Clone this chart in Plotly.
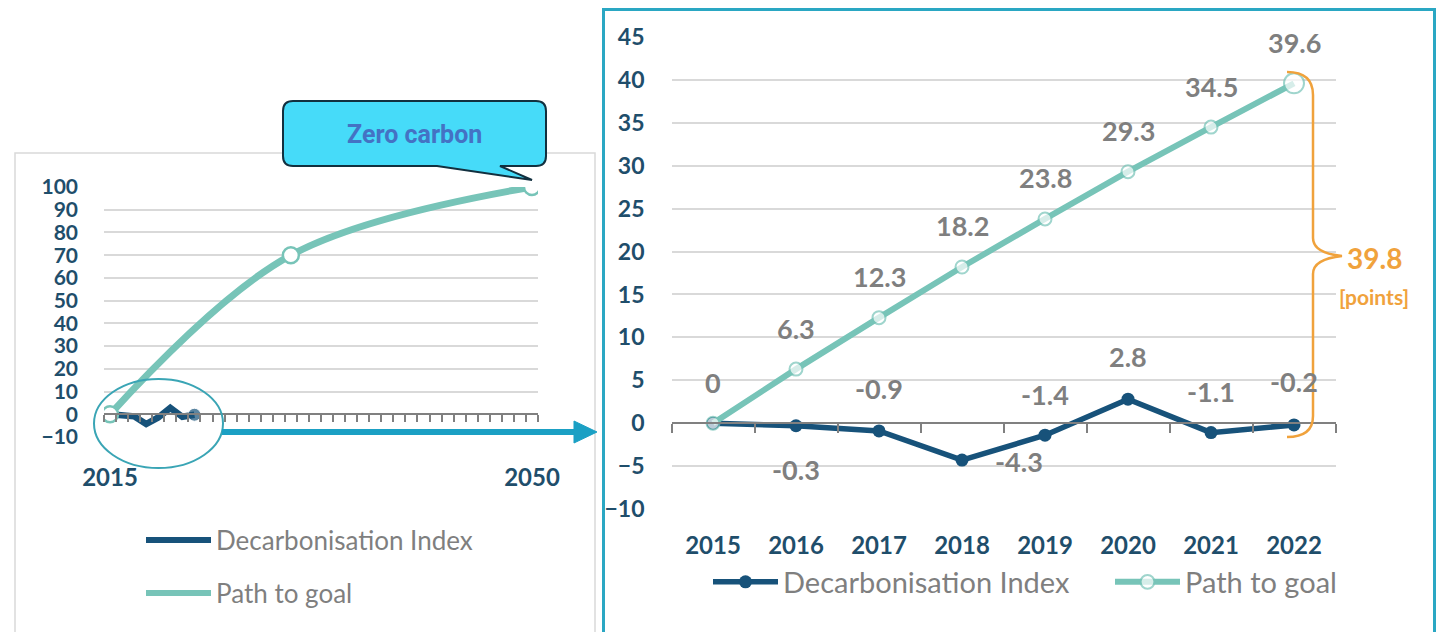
import plotly.graph_objects as go

# ---------------- data ----------------
years = [2015, 2016, 2017, 2018, 2019, 2020, 2021, 2022]
decarbonisation_index = [0, -0.3, -0.9, -4.3, -1.4, 2.8, -1.1, -0.2]
path_to_goal = [0, 6.3, 12.3, 18.2, 23.8, 29.3, 34.5, 39.6]
goal_years = [2015, 2030, 2050]
goal_values = [0, 70, 100]
left_y_ticks = [-10, 0, 10, 20, 30, 40, 50, 60, 70, 80, 90, 100]
left_x_labels = [2015, 2050]
right_y_ticks = [-10, -5, 0, 5, 10, 15, 20, 25, 30, 35, 40, 45]
series_names = ["Decarbonisation Index", "Path to goal"]
callout_text = "Zero carbon"
gap_unit = "[points]"

# ---------------- style ----------------
W, H = 1440, 632
NAVY = "#17527A"
TEAL = "#77C4B8"
GRAY_TXT = "#7F7F7F"
AXIS_TXT = "#1F4E6B"
GRID = "#D9D9D9"
ORANGE = "#F0A23C"
FONT = "Lato"


def px(x):
    return x / W


def py(y):
    return 1 - y / H


def zero_pos(dom, rng):
    return dom[0] + (0 - rng[0]) / (rng[1] - rng[0]) * (dom[1] - dom[0])


# left panel geometry
L_xdom = [px(104), px(538)]
L_ydom = [py(437), py(187)]
L_xrng = [2014.5, 2050.5]
L_yrng = [-10, 100]
# right panel geometry
R_xdom = [px(671.5), px(1335.5)]
R_ydom = [py(509), py(37)]
R_xrng = [2014.5, 2022.5]
R_yrng = [-10, 45]

fig = go.Figure()

# ---- left overview chart ----
fig.add_trace(go.Scatter(
    x=years, y=decarbonisation_index, mode="lines+markers",
    line=dict(color=NAVY, width=6.5),
    marker=dict(size=[0] * (len(years) - 1) + [13], color=NAVY),
    xaxis="x", yaxis="y", showlegend=False, hoverinfo="skip"))
fig.add_trace(go.Scatter(
    x=goal_years, y=goal_values, mode="lines+markers",
    line=dict(color=TEAL, width=7, shape="spline", smoothing=1.0),
    marker=dict(size=16, color="white", line=dict(color=TEAL, width=2.5)),
    xaxis="x", yaxis="y", showlegend=False, hoverinfo="skip"))

# left legend (line only)
fig.add_trace(go.Scatter(x=[None], y=[None], mode="lines", name=series_names[0],
                         line=dict(color=NAVY, width=6), xaxis="x", yaxis="y",
                         legend="legend3"))
fig.add_trace(go.Scatter(x=[None], y=[None], mode="lines", name=series_names[1],
                         line=dict(color=TEAL, width=6), xaxis="x", yaxis="y",
                         legend="legend4"))

# ---- right detail chart ----
fig.add_trace(go.Scatter(
    x=years, y=decarbonisation_index, mode="lines+markers", name=series_names[0],
    line=dict(color=NAVY, width=5.5),
    marker=dict(size=13, color=NAVY),
    xaxis="x2", yaxis="y2", legend="legend", hoverinfo="skip"))
fig.add_trace(go.Scatter(
    x=years, y=path_to_goal, mode="lines+markers", name=series_names[1],
    line=dict(color=TEAL, width=6),
    marker=dict(size=[13] * (len(years) - 1) + [20], color="white",
                line=dict(color=TEAL, width=2)),
    xaxis="x2", yaxis="y2", legend="legend2", hoverinfo="skip"))

annotations = []
lab_font = dict(family=FONT, size=27, color=GRAY_TXT, weight="bold")
for yr, v in zip(years, path_to_goal):
    annotations.append(dict(x=yr, y=v, xref="x2", yref="y2", text=f"{v:g}",
                            showarrow=False, yshift=41, font=lab_font))
dec_shift = [None, (0, -44), (0, 42), (57, -1), (0, 41), (0, 43), (0, 41), (0, 43)]
for yr, v, s in zip(years, decarbonisation_index, dec_shift):
    if s is None:
        continue
    annotations.append(dict(x=yr, y=v, xref="x2", yref="y2", text=f"{v:g}",
                            showarrow=False, xshift=s[0], yshift=s[1], font=lab_font))

# callout text
annotations.append(dict(x=px(415), y=py(134), xref="paper", yref="paper",
                        xanchor="center", yanchor="middle",
                        text=callout_text, showarrow=False,
                        font=dict(family="Roboto", size=25, color="#4472C4", weight="bold")))
# gap label
gap = path_to_goal[-1] - decarbonisation_index[-1]
annotations.append(dict(x=px(1374), y=py(258), xref="paper", yref="paper",
                        xanchor="center", yanchor="middle",
                        text=f"{gap:.1f}", showarrow=False,
                        font=dict(family=FONT, size=28, color=ORANGE, weight="bold")))
annotations.append(dict(x=px(1374), y=py(296), xref="paper", yref="paper",
                        xanchor="center", yanchor="middle",
                        text=gap_unit, showarrow=False,
                        font=dict(family=FONT, size=21, color=ORANGE, weight="bold")))


def path_px(cmds):
    out = []
    for c in cmds:
        if isinstance(c, str):
            out.append(c)
        else:
            out.append(f"{px(c[0]):.5f},{py(c[1]):.5f}")
    return " ".join(out)


shapes = []
# boxes
shapes.append(dict(type="rect", xref="paper", yref="paper", x0=px(15), x1=px(595),
                   y0=py(636), y1=py(153), line=dict(color=GRID, width=1.5), layer="below"))
shapes.append(dict(type="rect", xref="paper", yref="paper", x0=px(603.5), x1=px(1434.5),
                   y0=py(636), y1=py(9.5), line=dict(color="#2AA7C3", width=3), layer="below"))
# callout bubble
bubble = path_px(["M", (293, 101), "L", (536, 101), "Q", (546, 101), (546, 111),
                  "L", (546, 156), "Q", (546, 166), (536, 166), "L", (500, 166),
                  "L", (532, 180), "L", (437, 166), "L", (293, 166),
                  "Q", (283, 166), (283, 156), "L", (283, 111), "Q", (283, 101), (293, 101), "Z"])
shapes.append(dict(type="path", xref="paper", yref="paper", path=bubble,
                   fillcolor="#46DBF9", line=dict(color="#12303F", width=2)))
# ellipse highlight
shapes.append(dict(type="circle", xref="paper", yref="paper", x0=px(94), x1=px(223),
                   y0=py(468), y1=py(379), line=dict(color="#3AA5B5", width=2)))
# arrow
shapes.append(dict(type="line", xref="paper", yref="paper", x0=px(222), x1=px(578),
                   y0=py(432), y1=py(432), line=dict(color="#1BA0C4", width=6)))
head = path_px(["M", (574, 421), "L", (597, 432), "L", (574, 443), "Z"])
shapes.append(dict(type="path", xref="paper", yref="paper", path=head,
                   fillcolor="#1BA0C4", line=dict(color="#1BA0C4", width=1)))
# brace
brace = path_px(["M", (1287, 72), "Q", (1313, 72), (1313, 95), "L", (1313, 238),
                 "Q", (1313, 253), (1342, 256), "Q", (1313, 259), (1313, 274),
                 "L", (1313, 416), "Q", (1313, 437), (1287, 437)])
shapes.append(dict(type="path", xref="paper", yref="paper", path=brace,
                   line=dict(color=ORANGE, width=2.5)))

axis_font_l = dict(family=FONT, size=21, color=AXIS_TXT, weight="bold")
axis_font_r = dict(family=FONT, size=23, color=AXIS_TXT, weight="bold")
xfont = dict(family=FONT, size=24, color=AXIS_TXT, weight="bold")

fig.update_layout(
    template="none",
    width=W, height=H, autosize=False,
    margin=dict(l=0, r=0, t=0, b=0, pad=0, autoexpand=False),
    paper_bgcolor="white", plot_bgcolor="rgba(0,0,0,0)",
    font=dict(family=FONT),
    xaxis=dict(domain=L_xdom, range=L_xrng, anchor="free", automargin=False,
               position=zero_pos(L_ydom, L_yrng),
               tickmode="array", tickvals=left_x_labels, ticks="",
               ticklabelstandoff=42, tickfont=xfont,
               minor=dict(tickmode="linear", tick0=2014.5, dtick=1, ticks="outside",
                          ticklen=7, tickwidth=1.5, tickcolor="#808080", showgrid=False),
               showline=True, linecolor="#808080", linewidth=2,
               showgrid=False, zeroline=False, fixedrange=True),
    yaxis=dict(domain=L_ydom, range=L_yrng, anchor="x", automargin=False,
               tickmode="array", tickvals=left_y_ticks, ticks="",
               ticklabelstandoff=25, tickfont=axis_font_l,
               showgrid=True, gridcolor=GRID, gridwidth=1.5,
               zeroline=False, showline=False, fixedrange=True),
    xaxis2=dict(domain=R_xdom, range=R_xrng, anchor="free", automargin=False,
                position=zero_pos(R_ydom, R_yrng),
                tickmode="array", tickvals=years, ticks="",
                ticklabelstandoff=101, tickfont=xfont,
                minor=dict(tickmode="linear", tick0=2014.5, dtick=1, ticks="outside",
                           ticklen=9, tickwidth=1.5, tickcolor="#808080", showgrid=False),
                showline=True, linecolor="#808080", linewidth=2,
                showgrid=False, zeroline=False, fixedrange=True),
    yaxis2=dict(domain=R_ydom, range=R_yrng, anchor="x2", automargin=False,
                tickmode="array", tickvals=right_y_ticks, ticks="",
                ticklabelstandoff=26, tickfont=axis_font_r,
                showgrid=True, gridcolor=GRID, gridwidth=1.5,
                zeroline=False, showline=False, fixedrange=True),
    legend=dict(x=px(708), y=py(582), xanchor="left", yanchor="middle",
                orientation="h", itemwidth=65, bgcolor="rgba(0,0,0,0)",
                font=dict(family=FONT, size=29, color=GRAY_TXT)),
    legend2=dict(x=px(1110), y=py(582), xanchor="left", yanchor="middle",
                 orientation="h", itemwidth=65, bgcolor="rgba(0,0,0,0)",
                 font=dict(family=FONT, size=29, color=GRAY_TXT)),
    legend3=dict(x=px(141), y=py(540), xanchor="left", yanchor="middle",
                 orientation="h", itemwidth=65, bgcolor="rgba(0,0,0,0)",
                 font=dict(family=FONT, size=26, color=GRAY_TXT)),
    legend4=dict(x=px(141), y=py(593), xanchor="left", yanchor="middle",
                 orientation="h", itemwidth=65, bgcolor="rgba(0,0,0,0)",
                 font=dict(family=FONT, size=26, color=GRAY_TXT)),
    annotations=annotations,
    shapes=shapes,
    showlegend=True,
)

fig.write_html("out.html", config={"displayModeBar": False})
